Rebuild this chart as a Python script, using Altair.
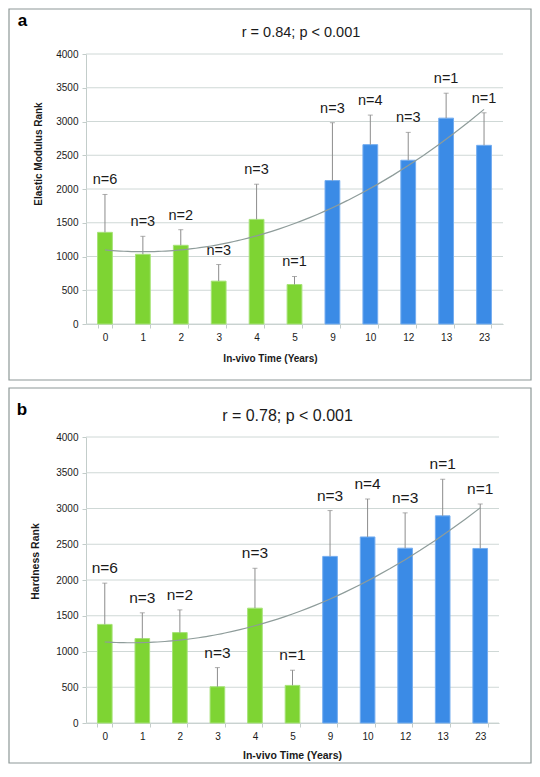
import altair as alt
import pandas as pd

# ---- data ----
years = ["0", "1", "2", "3", "4", "5", "9", "10", "12", "13", "23"]
n_counts = [6, 3, 2, 3, 3, 1, 3, 4, 3, 1, 1]
groups = ["early"] * 6 + ["late"] * 5
modulus_mean = [1358, 1033, 1166, 635, 1550, 585, 2125, 2657, 2426, 3050, 2647]
modulus_upper = [1919, 1299, 1397, 881, 2071, 704, 2982, 3095, 2839, 3419, 3129]
hardness_mean = [1379, 1181, 1264, 507, 1606, 526, 2330, 2602, 2445, 2897, 2441]
hardness_upper = [1956, 1541, 1582, 775, 2164, 738, 2971, 3133, 2939, 3409, 3063]
y_ticks = [0, 500, 1000, 1500, 2000, 2500, 3000, 3500, 4000]

FONT = "Liberation Sans"
TXT = "#1a1a1a"
GREEN, GREEN_EDGE = "#7ED433", "#A6E377"
BLUE, BLUE_EDGE = "#3B8BE6", "#74ADF0"
ERR = "#8C8C8C"
TREND = "#8E9C9A"
GRID = "#CFD8D6"
AXIS = "#C3CDCA"
FRAME = "#8E9897"


def panel(means, uppers, letter, stat, ytitle, w, h, L):
    df = pd.DataFrame({
        "year": years,
        "idx": list(range(len(years))),
        "mean": means,
        "upper": uppers,
        "label": [f"n={k}" for k in n_counts],
        "group": groups,
    })
    base = alt.Chart(df)
    x_axis = alt.Axis(
        title="In-vivo Time (Years)", labelAngle=0, tickBand="extent",
        tickSize=4, labelPadding=4, tickColor=AXIS, domainColor=AXIS,
        grid=False, labelFont=FONT, labelFontSize=L["lab"], labelColor=TXT,
        titleFont=FONT, titleFontSize=L["axt"], titleFontWeight="bold",
        titleColor=TXT, titleX=L["xtx"], titleY=L["xty"],
        titleBaseline="middle", titleAlign="center",
    )
    x_scale = alt.Scale(paddingInner=0.61, paddingOuter=0.305)

    def xe():
        return alt.X("year:N", sort=years, scale=x_scale, axis=x_axis)

    y_scale = alt.Scale(domain=[0, 4000], nice=False)
    y_axis = alt.Axis(
        values=y_ticks, format="d", title=ytitle, grid=False,
        domainColor=AXIS, tickColor=AXIS, tickSize=4, labelPadding=4,
        labelFont=FONT, labelFontSize=L["lab"], labelColor=TXT,
        titleFont=FONT, titleFontSize=L["axt"], titleFontWeight="bold",
        titleColor=TXT, titleAngle=-90, titleX=L["ytx"], titleY=L["yty"],
        titleAlign="center", titleBaseline="bottom",
    )

    def ye(field):
        return alt.Y(field, scale=y_scale, axis=y_axis)

    grid = alt.Chart(pd.DataFrame({"tick": y_ticks})).mark_rule(
        color=GRID, strokeWidth=1).encode(y=ye("tick:Q"))
    bars = base.mark_bar(strokeWidth=1).encode(
        x=xe(), y=ye("mean:Q"),
        color=alt.Color("group:N", scale=alt.Scale(domain=["early", "late"], range=[GREEN, BLUE]), legend=None),
        stroke=alt.Stroke("group:N", scale=alt.Scale(domain=["early", "late"], range=[GREEN_EDGE, BLUE_EDGE]), legend=None),
    )
    err = base.mark_rule(color=ERR, strokeWidth=1).encode(
        x=xe(), y=ye("mean:Q"), y2="upper:Q")
    cap = base.mark_tick(color=ERR, size=5, thickness=1, orient="horizontal").encode(
        x=xe(), y=ye("upper:Q"))
    lab = base.mark_text(font=FONT, fontSize=L["nsz"], color=TXT, baseline="alphabetic", dy=-10).encode(
        x=xe(), y=ye("upper:Q"), text="label:N")
    inner = alt.layer(grid, bars, err, cap, lab)

    trend = base.transform_regression("idx", "mean", method="poly", order=2).mark_line(
        color=TREND, strokeWidth=1.2).encode(
        x=alt.X("idx:Q", scale=alt.Scale(domain=[-0.5, 10.5], nice=False, zero=False), axis=None),
        y=ye("mean:Q"),
    )

    deco = alt.Chart(pd.DataFrame({"k": [0]}))
    frame = deco.mark_rect(filled=False, stroke=FRAME, strokeWidth=1.2).encode(
        x=alt.value(L["fx"]), x2=alt.value(L["fx2"]), y=alt.value(L["fy"]), y2=alt.value(L["fy2"]))
    letter_t = deco.mark_text(text=letter, font=FONT, fontWeight="bold", fontSize=L["lsz"],
                              color="#000", align="center", baseline="alphabetic").encode(
        x=alt.value(L["lx"]), y=alt.value(L["ly"]))
    stat_t = deco.mark_text(text=stat, font=FONT, fontSize=L["tsz"], color=TXT,
                            align="center", baseline="alphabetic").encode(
        x=alt.value(L["tx"]), y=alt.value(L["ty"]))

    return alt.layer(inner, trend, frame, letter_t, stat_t).resolve_scale(
        x="independent").properties(width=w, height=h)


LA = dict(lab=10, axt=10, nsz=14.5, tsz=14.5, lsz=17,
          xtx=184, xty=34, ytx=-42.5, yty=99.5,
          fx=-77, fx2=445, fy=-45, fy2=326,
          lx=-63.5, ly=-28, tx=215, ty=-17)
LB = dict(lab=10, axt=10.5, nsz=15.5, tsz=16, lsz=17,
          xtx=206, xty=32, ytx=-45.5, yty=124,
          fx=-77, fx2=445, fy=-49, fy2=326,
          lx=-64, ly=-22, tx=201.5, ty=-16)

chart_a = panel(modulus_mean, modulus_upper, "a", "r = 0.84; p < 0.001", "Elastic Modulus Rank", 417, 270, LA)
chart_b = panel(hardness_mean, hardness_upper, "b", "r = 0.78; p < 0.001", "Hardness Rank", 413, 286, LB)

chart = alt.vconcat(chart_a, chart_b, spacing=6).resolve_scale(
    x="independent", y="independent").properties(padding=0).configure_view(stroke=None)

chart.save("out.html", embed_options={"renderer": "svg", "actions": False})
